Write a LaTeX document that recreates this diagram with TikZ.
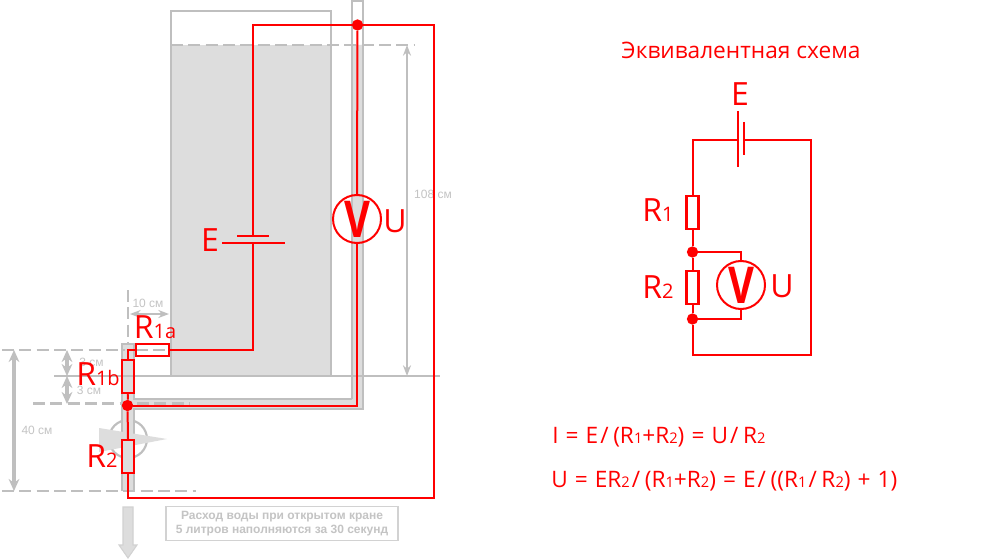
\documentclass[tikz,border=0pt]{standalone}
\usepackage{fontspec}
\setmainfont{Open Sans}
\newfontfamily\grayfont{Liberation Sans}
\usetikzlibrary{arrows.meta}
\definecolor{gline}{HTML}{BFBFBF}
\definecolor{gfill}{HTML}{DDDDDD}
\definecolor{gtext}{HTML}{C4C4C4}
\newcommand{\sm}[1]{{\fontsize{15}{16}\selectfont #1}}
\newcommand{\fsm}[1]{{\fontsize{11}{12}\selectfont #1}}
\newcommand{\sla}{\kern1.5pt/\kern3.5pt}
\newcommand{\wsp}{\kern5.3pt\relax}
\newcommand{\metersym}{\raisebox{-1.5pt}{\scalebox{0.88}[1.12]{V}}}
\tikzset{
  wire/.style={draw=red,line width=1.5pt,line join=miter},
  plate/.style={draw=red,line width=1.5pt},
  resv/.style={draw=red,line width=1.6pt,inner sep=0pt,minimum width=9pt,minimum height=25pt,fill=none},
  resh/.style={draw=red,line width=1.6pt,inner sep=0pt,minimum width=25pt,minimum height=9pt,fill=none},
  junction/.style={circle,fill=red,inner sep=0pt,minimum size=8.5pt},
  meter/.style={circle,draw=red,line width=1.5pt,inner sep=0pt,minimum size=36pt,text=red,font=\bfseries\fontsize{34}{36}\selectfont},
  redtext/.style={text=red,inner sep=0pt,font=\fontsize{24}{26}\selectfont},
  formula/.style={text=red,inner sep=0pt,anchor=west,font=\fontsize{17}{19}\selectfont},
  graytext/.style={text=gtext,inner sep=0pt,font=\grayfont\fontsize{9}{11}\selectfont},
  gwall/.style={draw=gline,line width=2.2pt},
  gthin/.style={draw=gline,line width=1.2pt},
  gdash/.style={draw=gline,line width=1.6pt,dash pattern=on 9pt off 4pt},
  dimthick/.style={draw=gline,line width=2.4pt,{Stealth[length=9pt,width=8pt]}-{Stealth[length=9pt,width=8pt]}},
  dimthin/.style={draw=gline,line width=1.3pt,{Stealth[length=8pt,width=6pt]}-{Stealth[length=8pt,width=6pt]}},
}
\begin{document}
\begin{tikzpicture}[x=0.75pt,y=-0.75pt]
\useasboundingbox[fill=white] (0,0) rectangle (1000,560);
% ---- tank and pipes
\draw[gline,line width=1.6pt] (128,439) circle[radius=19];
\fill[gfill] (171,45) rectangle (331,376);
\fill[gfill] (352,45) -- (363,45) -- (363,409) -- (122,409) -- (122,343) -- (134,343) -- (134,399) -- (352,399) -- cycle;
\fill[gfill] (122,343) rectangle (134,491);
\draw[gwall] (171,45) -- (171,11) -- (331,11) -- (331,376);
\draw[gwall] (171,45) -- (171,376) -- (331,376);
\draw[gwall] (352,399) -- (352,1) -- (363,1) -- (363,409) -- (134,409) -- (134,491);
\draw[gwall] (352,399) -- (134,399) -- (134,344) -- (122,344) -- (122,491);
\draw[gdash] (171,45) -- (415,45);
\draw[gdash] (2,350) -- (125,350);
\draw[gdash] (136,350) -- (169,350);
\draw[gdash] (33,403.5) -- (190,403.5);
\draw[gdash] (2,491) -- (196,491);
\draw[gdash] (128,290) -- (128,345);
\draw[gthin] (54,376) -- (440,376);
% valve
\fill[gfill] (99,428) -- (167,439) -- (99,452) -- cycle;
% dimensions
\coordinate (d40a) at (14,350); \coordinate (d40b) at (14,491);
\coordinate (d3a) at (67,350); \coordinate (d3b) at (67,376); \coordinate (d3c) at (67,404);
\coordinate (d10a) at (130,314); \coordinate (d10b) at (169,314);
\coordinate (d108a) at (407,45); \coordinate (d108b) at (407,376);
\draw[dimthick] (d40a) -- (d40b);
\draw[dimthick] (d3a) -- (d3b);
\draw[dimthick] (d3b) -- (d3c);
\draw[dimthin] (d10a) -- (d10b);
\draw[dimthin] (d108a) -- (d108b);
\node[graytext] (t10) at (148,303) {10 см};
\node[graytext] (t3a) at (91.5,362) {3 см};
\node[graytext] (t3b) at (89,390) {3 см};
\node[graytext] (t40) at (37,430) {40 см};
\node[graytext] (t108) at (433,194) {108 см};
% outflow arrow
\draw[draw=gline!70,fill=gfill,line width=0.8pt] (123,507) -- (133,507) -- (133,545) -- (137,545) -- (128,558) -- (119,545) -- (123,545) -- cycle;
% note
\node[draw=gline!70,line width=0.8pt,minimum width=174pt,minimum height=26pt,inner sep=0pt,align=center,text=gtext,font=\grayfont\bfseries\fontsize{9}{10.5}\selectfont] (note) at (282,523.5) {Расход воды при открытом кране\\5 литров наполняются за 30 секунд};
% ---- red overlay, left
\node[resh] (R1a) at (152.5,350) {};
\node[resv] (R1b) at (128,376.5) {};
\node[resv] (R2l) at (128,456.5) {};
\node[junction] (Jl) at (127.5,405.5) {};
\node[junction] (Jt) at (357.5,25) {};
\node[meter] (Vl) at (357,219) {\metersym};
\coordinate (Ep1) at (222,243); \coordinate (Ep2) at (285,243);
\coordinate (Es1) at (237,236); \coordinate (Es2) at (269,236);
\coordinate (Em1) at (253,243); \coordinate (Em2) at (253,236);
\draw[plate] (Ep1) -- (Ep2);
\draw[plate] (Es1) -- (Es2);
\draw[wire] (R1b.north) |- (R1a.west);
\draw[wire] (R1a.east) -| (Em1);
\draw[wire] (Em2) |- (434,25) |- (128,498) -- (R2l.south);
\draw[wire] (R1b.south) -- (Jl);
\draw[wire] (Jl) -- (R2l.north);
\draw[wire] (Jl) -| (Vl.south);
\draw[wire] (Jt) -- (Vl.north);
\node[redtext] (Le) at (210,240) {E};
\node[redtext] (Lu) at (395,221) {U};
\node[redtext] (L1a) at (155,327) {R\sm{1a}};
\node[redtext] (L1b) at (98,374) {R\sm{1b}};
\node[redtext] (L2) at (102,456) {R\sm{2}};
% ---- red, right
\node[text=red,inner sep=0pt,font=\fontsize{17}{19}\selectfont] (title) at (741,50) {Эквивалентная схема};
\node[redtext] (Re) at (740,94) {E};
\node[redtext] (Rr1) at (658,210) {R\sm{1}};
\node[redtext] (Rr2) at (658,287) {R\sm{2}};
\node[redtext] (Ru) at (782,286) {U};
\node[resv] (R1) at (692.5,212.5) {};
\node[resv] (R2) at (692.5,287.5) {};
\node[junction] (J1) at (692.5,252) {};
\node[junction] (J2) at (692.5,319) {};
\node[meter] (V) at (741,285) {\metersym};
\coordinate (Ba) at (738,111); \coordinate (Bb) at (738,167);
\coordinate (Bc) at (744,122); \coordinate (Bd) at (744,155);
\coordinate (Bl) at (738,140); \coordinate (Br) at (744,140);
\draw[plate] (Ba) -- (Bb);
\draw[plate] (Bc) -- (Bd);
\draw[wire] (Bl) -| (R1.north);
\draw[wire] (Br) -- (811,140) |- (692.5,355) -- (J2);
\draw[wire] (R1.south) -- (J1);
\draw[wire] (J1) -- (R2.north);
\draw[wire] (R2.south) -- (J2);
\draw[wire] (J1) -| (V.north);
\draw[wire] (J2) -| (V.south);
% formulas
\node[formula] (f1) at (552,437) {I\wsp=\wsp E\sla(R\fsm{1}+R\fsm{2})\wsp=\wsp U\sla R\fsm{2}};
\node[formula] (f2) at (551,481) {U\wsp=\wsp ER\fsm{2}\sla(R\fsm{1}+R\fsm{2})\wsp=\wsp E\sla((R\fsm{1}\sla R\fsm{2})\wsp+\wsp 1)};
\end{tikzpicture}
\end{document}
